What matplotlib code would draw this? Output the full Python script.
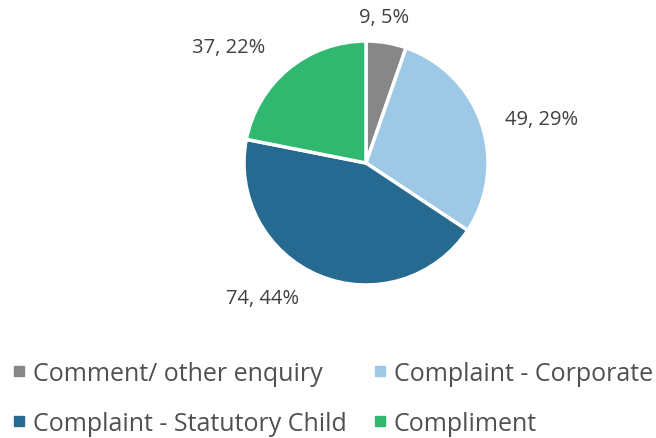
import matplotlib
matplotlib.use("Agg")
import matplotlib.pyplot as plt
from matplotlib.lines import Line2D

categories = ["Comment/ other enquiry", "Complaint - Corporate",
              "Complaint - Statutory Child", "Compliment"]
values = [9, 49, 74, 37]
colors = ["#878787", "#9DC8E6", "#266A92", "#30B870"]
# label anchor positions (in pie-radius units) relative to centre
label_pos = [(0.15, 1.2), (1.44, 0.36), (-0.85, -1.11), (-1.13, 0.95)]

plt.rcParams['font.family'] = ['Open Sans', 'DejaVu Sans']
W, H = 656, 439
fig = plt.figure(figsize=(W / 100, H / 100), dpi=100)
cx, cy, r = 366, 164, 122
ax = fig.add_axes([(cx - r) / W, 1 - (cy + r) / H, 2 * r / W, 2 * r / H])
wedges, _ = ax.pie(values, colors=colors, startangle=90, counterclock=False,
                   radius=1, wedgeprops=dict(edgecolor="white", linewidth=2.5))
ax.set_xlim(-1, 1)
ax.set_ylim(-1, 1)
ax.set_aspect("equal")
total = sum(values)
for v, (x, y) in zip(values, label_pos):
    ax.text(x, y, f"{v}, {round(v / total * 100)}%", ha="center", va="center",
            fontsize=14.5, color="#404040", clip_on=False)

handles = [Line2D([], [], marker="s", linestyle="none", markersize=6.5,
                  markerfacecolor=c, markeredgecolor=c) for c in colors]
order = [0, 2, 1, 3]
fig.legend([handles[i] for i in order], [categories[i] for i in order],
           ncol=2, loc="lower left", bbox_to_anchor=(-0.015, -0.046),
           frameon=False, fontsize=18, labelcolor="#505050",
           handlelength=0.5, handletextpad=0.3, columnspacing=1.1,
           labelspacing=1.0)
fig.savefig("out.png", dpi=100)
